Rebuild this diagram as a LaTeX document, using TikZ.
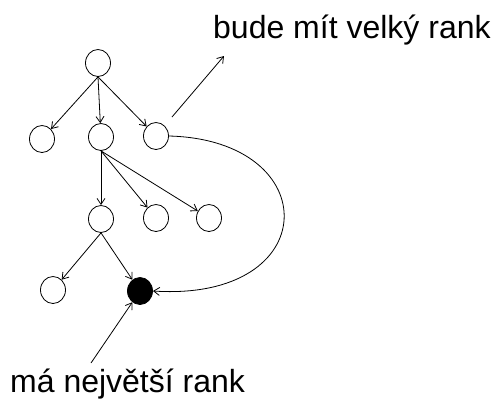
\documentclass[tikz,border=0pt]{standalone}
\usepackage{fontspec}
\setmainfont{Liberation Sans}
\usetikzlibrary{arrows.meta,shapes.geometric}

\begin{document}
\begin{tikzpicture}[x=1pt,y=-1pt,
    >={Straight Barb[length=6pt,width=8pt]}]
  \useasboundingbox (0,0) rectangle (496,400);
  % the tree
  \begin{scope}[every node/.style={ellipse,draw,line width=0.8pt,
      minimum width=25pt,minimum height=27pt,inner sep=0pt}]
    \node (R) at (98,63) {};
    \node (A) at (42,139) {};
    \node (B) at (101,137) {};
    \node (C) at (156,136) {};
    \node (D) at (101,219) {};
    \node (E) at (156,218) {};
    \node (F) at (209,218) {};
    \node (G) at (53,290) {};
    \node (H) [fill=black] at (140,291) {};
  \end{scope}
  \begin{scope}[every edge/.style={draw=black,line width=0.8pt,->}]
    \path (R.south) edge (A);
    \path (R.south) edge (B);
    \path (R.south) edge (C);
    \path (B.south) edge (D);
    \path (B.south) edge (E);
    \path (B.south) edge (F);
    \path (D.south) edge (G);
    \path (D.south) edge (H);
  \end{scope}
  % back link from C down to the black node
  \draw[->,line width=0.8pt] (C.east) .. controls (326,140) and (324,302) .. (H.east);
  % labels
  \begin{scope}[every node/.style={anchor=base west,inner sep=0pt,
      font=\fontsize{32}{38}\selectfont}]
    \node (big) at (213,38) {bude mít velký rank};
    \node (biggest) at (10,392) {má největší rank};
  \end{scope}
  \coordinate (bigtail) at (172,117);
  \coordinate (bighead) at (224,56);
  \coordinate (maxtail) at (91,363);
  \draw[->,line width=0.8pt] (bigtail) -- (bighead);
  \draw[->,line width=0.8pt] (maxtail) -- (H);
\end{tikzpicture}
\end{document}
